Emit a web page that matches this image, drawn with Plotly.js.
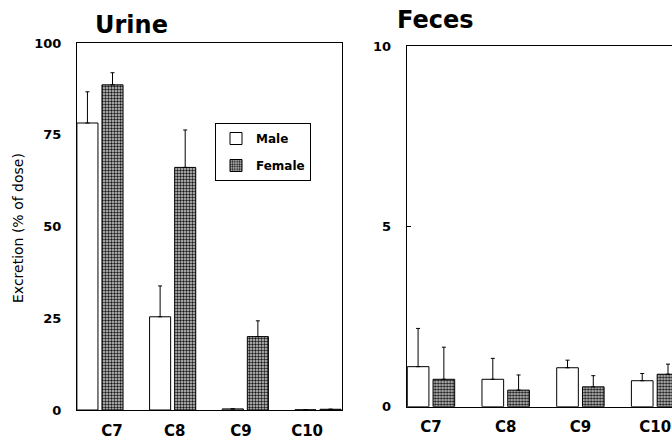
<!DOCTYPE html>
<html>
<head>
<meta charset="utf-8">
<script src="https://cdn.plot.ly/plotly-3.0.1.min.js"></script>
<style>
html,body{margin:0;padding:0;overflow:hidden;background:#fff;width:672px;height:441px;}
#chart{width:685px;height:441px;}
</style>
</head>
<body>
<div id="chart"></div>
<script>
var categories = ["C7", "C8", "C9", "C10"];
var urineMale = [78.2, 25.4, 0.3, 0.05];
var urineMaleErr = [8.5, 8.4, 0, 0];
var urineFemale = [88.6, 66.1, 20.0, 0.2];
var urineFemaleErr = [3.3, 10.2, 4.3, 0];
var fecesMale = [1.11, 0.76, 1.08, 0.72];
var fecesMaleErr = [1.06, 0.58, 0.21, 0.20];
var fecesFemale = [0.76, 0.46, 0.55, 0.90];
var fecesFemaleErr = [0.89, 0.42, 0.31, 0.28];
var urineTicks = [0, 25, 50, 75, 100];
var fecesTicks = [0, 5, 10];
// label offsets (in category units) of the Urine panel's x labels relative to the bar groups
var urineLabelOffset = [0.165, 0.03, -0.06, -0.15];

var W = 685, H = 441;
function px(x){return x/W;}
function py(y){return 1 - y/H;}
var idx = categories.map(function(c, i){return i;});

var maleMarker = {color: "#ffffff", line: {color: "#000", width: 1}};
var femaleMarker = {color: "#8a8a8a", line: {color: "#000", width: 1},
  pattern: {shape: ".", fgcolor: "#1a1a1a", bgcolor: "#cfcfcf", size: 3, solidity: 0.5}};
function err(a){return {type: "data", array: a, symmetric: false, arrayminus: a.map(function(){return 0;}), color: "#000", thickness: 1, width: 2};}

var traces = [
  {type: "bar", name: "Male", x: idx, y: urineMale, error_y: err(urineMaleErr), marker: maleMarker, xaxis: "x", yaxis: "y", legendgroup: "m"},
  {type: "bar", name: "Female", x: idx, y: urineFemale, error_y: err(urineFemaleErr), marker: femaleMarker, xaxis: "x", yaxis: "y", legendgroup: "f"},
  {type: "bar", name: "Male", x: categories, y: fecesMale, error_y: err(fecesMaleErr), marker: maleMarker, xaxis: "x2", yaxis: "y2", showlegend: false},
  {type: "bar", name: "Female", x: categories, y: fecesFemale, error_y: err(fecesFemaleErr), marker: femaleMarker, xaxis: "x2", yaxis: "y2", showlegend: false}
];

var tickFont = {family: "DejaVu Sans", size: 13, color: "#000", weight: "bold"};
var catFont = {family: "DejaVu Sans", size: 15, color: "#000", weight: "bold"};

var layout = {
  width: W, height: H,
  margin: {l: 0, r: 0, t: 0, b: 0},
  paper_bgcolor: "#fff", plot_bgcolor: "#fff",
  barmode: "group", bargap: 0.31, bargroupgap: 0.16,
  font: {family: "DejaVu Sans", color: "#000"},
  xaxis: {domain: [px(77), px(342)], anchor: "y", type: "linear", range: [-0.316, 3.33],
    tickvals: idx.map(function(i){return i + urineLabelOffset[i];}), ticktext: categories,
    showline: true, linecolor: "#000", linewidth: 1, mirror: true, showgrid: false, zeroline: false,
    ticks: "", tickfont: catFont, ticklabelstandoff: 7},
  yaxis: {domain: [py(410), py(43)], anchor: "x", range: [0, 100], tickvals: urineTicks,
    showline: true, linecolor: "#000", linewidth: 1, mirror: true, showgrid: false, zeroline: false,
    ticks: "", tickfont: tickFont, ticklabelstandoff: 12},
  xaxis2: {domain: [px(406.7), 1], anchor: "y2", type: "category", range: [-0.325, 3.40],
    showline: true, linecolor: "#000", linewidth: 1, mirror: true, showgrid: false, zeroline: false,
    ticks: "", tickfont: catFont, ticklabelstandoff: 6},
  yaxis2: {domain: [py(406.7), py(46)], anchor: "x2", range: [0, 10], tickvals: fecesTicks,
    showline: true, linecolor: "#000", linewidth: 1, mirror: true, showgrid: false, zeroline: false,
    ticks: "inside", ticklen: 4, tickcolor: "#000", tickwidth: 1, tickfont: tickFont, ticklabelstandoff: 12},
  showlegend: true,
  legend: {x: px(215), y: py(123), xanchor: "left", yanchor: "top", bgcolor: "#fff",
    bordercolor: "#000", borderwidth: 1, tracegroupgap: 8,
    font: {family: "DejaVu Sans", size: 12, color: "#000", weight: "bold"}, itemwidth: 30},
  annotations: [
    {text: "Urine", xref: "paper", yref: "paper", x: px(93), y: py(25), xanchor: "left", yanchor: "middle", showarrow: false,
      font: {family: "DejaVu Sans", size: 24, color: "#000", weight: "bold"}},
    {text: "Feces", xref: "paper", yref: "paper", x: px(395), y: py(20), xanchor: "left", yanchor: "middle", showarrow: false,
      font: {family: "DejaVu Sans", size: 24, color: "#000", weight: "bold"}},
    {text: "Excretion (% of dose)", xref: "paper", yref: "paper", x: px(18), y: py(228), xanchor: "center", yanchor: "middle",
      textangle: -90, showarrow: false, font: {family: "DejaVu Sans", size: 14, color: "#000"}}
  ]
};

Plotly.newPlot("chart", traces, layout, {displayModeBar: false, staticPlot: true});
</script>
</body>
</html>
